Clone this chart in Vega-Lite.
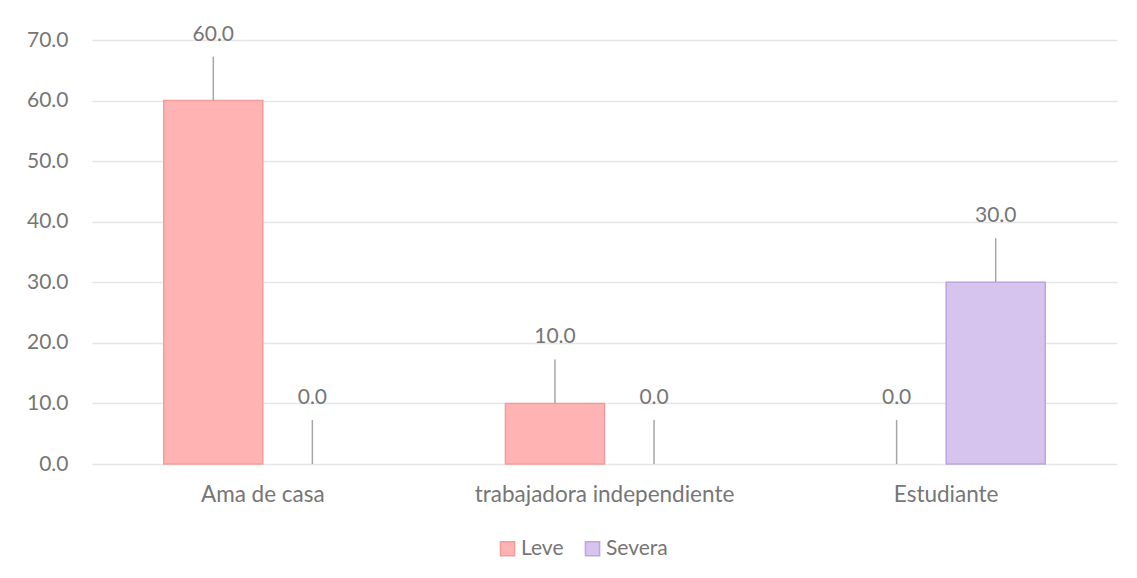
{
  "$schema": "https://vega.github.io/schema/vega-lite/v6.json",
  "width": 1025,
  "height": 424,
  "autosize": {"type": "none"},
  "padding": {"left": 92, "top": 40, "right": 20, "bottom": 114},
  "background": "white",
  "config": {
    "view": {"stroke": null},
    "font": "Lato",
    "axis": {"labelFont": "Lato", "labelColor": "#767676", "labelFontSize": 21, "labelLimit": 0}
  },
  "data": {
    "values": [
      {"Ocupacion": "Ama de casa", "Serie": "Leve", "Porcentaje": 60.0},
      {"Ocupacion": "Ama de casa", "Serie": "Severa", "Porcentaje": 0.0},
      {"Ocupacion": "trabajadora independiente", "Serie": "Leve", "Porcentaje": 10.0},
      {"Ocupacion": "trabajadora independiente", "Serie": "Severa", "Porcentaje": 0.0},
      {"Ocupacion": "Estudiante", "Serie": "Leve", "Porcentaje": 0.0},
      {"Ocupacion": "Estudiante", "Serie": "Severa", "Porcentaje": 30.0}
    ]
  },
  "encoding": {
    "x": {
      "field": "Ocupacion",
      "type": "nominal",
      "sort": null,
      "title": null,
      "scale": {"paddingInner": 0.42, "paddingOuter": 0.21},
      "axis": {"labelAngle": 0, "domain": false, "ticks": false, "labelPadding": 19, "grid": false, "labelFontSize": 22.5}
    },
    "xOffset": {
      "field": "Serie",
      "type": "nominal",
      "sort": ["Leve", "Severa"],
      "scale": {"domain": ["Leve", "Severa"], "paddingInner": 0, "paddingOuter": 0}
    },
    "y": {
      "field": "Porcentaje",
      "type": "quantitative",
      "title": null,
      "scale": {"domain": [0, 70], "nice": false},
      "axis": {
        "values": [0, 10, 20, 30, 40, 50, 60, 70],
        "format": ".1f",
        "domain": false,
        "ticks": false,
        "labelPadding": 24,
        "gridColor": "#E6E6E6",
        "gridWidth": 1.3
      }
    }
  },
  "layer": [
    {
      "transform": [{"filter": "datum.Porcentaje > 0"}],
      "mark": {"type": "bar", "strokeWidth": 1.5},
      "encoding": {
        "color": {
          "field": "Serie",
          "type": "nominal",
          "sort": ["Leve", "Severa"],
          "scale": {"domain": ["Leve", "Severa"], "range": ["#FFB3B3", "#D6C3EE"]},
          "legend": {
            "title": null,
            "orient": "none",
            "direction": "horizontal",
            "legendX": 405,
            "legendY": 498,
            "symbolType": "square",
            "symbolSize": 200,
            "symbolStrokeWidth": 1.5,
            "labelFont": "Lato",
            "labelFontSize": 21,
            "labelColor": "#767676",
            "labelOffset": 3,
            "columnPadding": 18
          }
        },
        "stroke": {
          "field": "Serie",
          "type": "nominal",
          "scale": {"domain": ["Leve", "Severa"], "range": ["#F29D9D", "#BCA6DC"]},
          "legend": null
        }
      }
    },
    {
      "mark": {"type": "rule", "color": "#A6A6A6", "strokeWidth": 1.5, "y2Offset": -44},
      "encoding": {
        "y2": {"field": "Porcentaje"}
      }
    },
    {
      "mark": {"type": "text", "color": "#767676", "fontSize": 21, "font": "Lato", "dy": -66, "baseline": "middle"},
      "encoding": {
        "text": {"field": "Porcentaje", "type": "quantitative", "format": ".1f"}
      }
    }
  ]
}
